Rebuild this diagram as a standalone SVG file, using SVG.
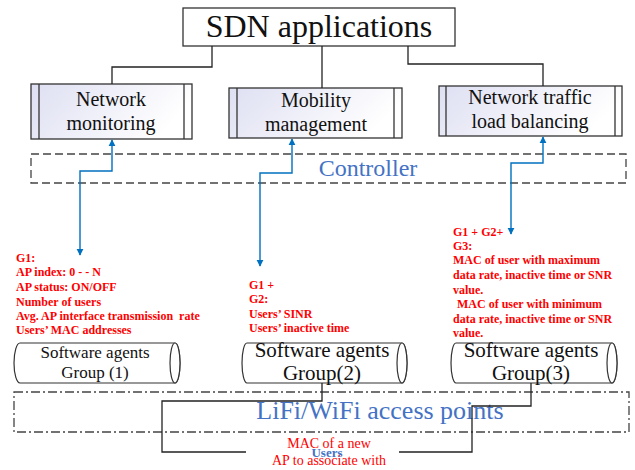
<svg xmlns="http://www.w3.org/2000/svg" width="635" height="470" viewBox="0 0 635 470">
<defs>
<linearGradient id="appfill" x1="0" y1="0" x2="1" y2="0.3">
<stop offset="0" stop-color="#dedff2"/>
<stop offset="1" stop-color="#ffffff"/>
</linearGradient>
<marker id="ah" viewBox="0 0 10 10" refX="9" refY="5" markerWidth="7" markerHeight="9" markerUnits="userSpaceOnUse" orient="auto-start-reverse">
<path d="M0,0 L10,5 L0,10 Z" fill="#0070C0"/>
</marker>
<style>
.box{fill:#fff;stroke:#333;stroke-width:1.3}
.app{fill:url(#appfill);stroke:#333;stroke-width:1.3}
.bar{stroke:#333;stroke-width:1.3;fill:none}
.line{fill:none;stroke:#222;stroke-width:1.3}
.blue{fill:none;stroke:#0070C0;stroke-width:1.4}
.tm{font-family:"Liberation Serif","Times New Roman",serif;fill:#111}
.red{font-family:"Liberation Serif","Times New Roman",serif;font-weight:bold;font-size:12px;fill:#ff0000}
.cyl{fill:#fff;stroke:#333;stroke-width:1.2}
</style>
</defs>

<g id="sdn-applications">
<rect class="box" x="183" y="8" width="272" height="38"/>
<text class="tm" x="319" y="37" font-size="32" text-anchor="middle">SDN applications</text>
</g>

<g id="network-monitoring">
<rect class="app" x="31" y="84" width="161" height="55"/>
<line class="bar" x1="39" y1="84" x2="39" y2="139"/>
<line class="bar" x1="184" y1="84" x2="184" y2="139"/>
<text class="tm" x="111" y="106" font-size="20" text-anchor="middle">Network</text>
<text class="tm" x="111" y="130" font-size="20" text-anchor="middle">monitoring</text>
</g>

<g id="mobility-management">
<rect class="app" x="229" y="88" width="173" height="50"/>
<line class="bar" x1="237" y1="88" x2="237" y2="138"/>
<line class="bar" x1="394" y1="88" x2="394" y2="138"/>
<text class="tm" x="316" y="107" font-size="20" text-anchor="middle">Mobility</text>
<text class="tm" x="316" y="131" font-size="20" text-anchor="middle">management</text>
</g>

<g id="load-balancing">
<rect class="app" x="439" y="86" width="183" height="50"/>
<line class="bar" x1="446" y1="86" x2="446" y2="136"/>
<line class="bar" x1="615" y1="86" x2="615" y2="136"/>
<text class="tm" x="530" y="104" font-size="20" text-anchor="middle">Network traffic</text>
<text class="tm" x="530" y="128" font-size="20" text-anchor="middle">load balancing</text>
</g>

<g id="controller">
<rect x="31" y="154" width="595" height="29" fill="none" stroke="#444" stroke-width="1.3" stroke-dasharray="8,4"/>
<text x="368" y="176" font-family="'Liberation Serif','Times New Roman',serif" font-size="24" fill="#4472C4" text-anchor="middle">Controller</text>
</g>

<g id="group1">
<path class="cyl" d="M20,343 H175 A5,20 0 0 1 175,383 H20 A6,20 0 0 1 20,343 Z"/>
<ellipse class="cyl" cx="175" cy="363" rx="5" ry="20"/>
<text class="tm" x="95" y="358" font-size="17" text-anchor="middle">Software agents</text>
<text class="tm" x="95" y="378" font-size="17" text-anchor="middle">Group (1)</text>
</g>

<g id="group2">
<path class="cyl" d="M247,343 H402 A5,20 0 0 1 402,383 H247 A5,20 0 0 1 247,343 Z"/>
<ellipse class="cyl" cx="402" cy="363" rx="5" ry="20"/>
<text class="tm" x="322" y="357" font-size="21" text-anchor="middle">Software agents</text>
<text class="tm" x="322" y="380" font-size="21" text-anchor="middle">Group(2)</text>
</g>

<g id="group3">
<path class="cyl" d="M456,343 H612 A5,20 0 0 1 612,383 H456 A5,20 0 0 1 456,343 Z"/>
<ellipse class="cyl" cx="612" cy="363" rx="5" ry="20"/>
<text class="tm" x="531" y="357" font-size="21" text-anchor="middle">Software agents</text>
<text class="tm" x="531" y="380" font-size="21" text-anchor="middle">Group(3)</text>
</g>

<g id="access-points">
<rect x="14" y="392" width="615" height="40" fill="none" stroke="#444" stroke-width="1.3" stroke-dasharray="9,3,2,3"/>
<text x="380" y="419" font-family="'Liberation Serif','Times New Roman',serif" font-size="26" fill="#4472C4" text-anchor="middle">LiFi/WiFi access points</text>
</g>

<g id="users">
<text x="329" y="448" font-family="'Liberation Serif','Times New Roman',serif" font-size="14" fill="#ff0000" text-anchor="middle">MAC of a new</text>
<text x="327" y="457" font-family="'Liberation Serif','Times New Roman',serif" font-size="13" font-weight="bold" fill="#4472C4" text-anchor="middle">Users</text>
<text x="329" y="465" font-family="'Liberation Serif','Times New Roman',serif" font-size="14" fill="#ff0000" text-anchor="middle">AP to associate with</text>
</g>

<g id="labels">
<text class="red" x="16" y="262">G1:</text>
<text class="red" x="16" y="276">AP index: 0 - - N</text>
<text class="red" x="16" y="291">AP status: ON/OFF</text>
<text class="red" x="16" y="306">Number of users</text>
<text class="red" x="16" y="320" style="white-space:pre">Avg. AP interface transmission  rate</text>
<text class="red" x="16" y="334">Users’ MAC addresses</text>

<text class="red" x="249" y="289">G1 +</text>
<text class="red" x="249" y="303">G2:</text>
<text class="red" x="249" y="318">Users’ SINR</text>
<text class="red" x="249" y="332">Users’ inactive time</text>

<text class="red" x="453" y="236">G1 + G2+</text>
<text class="red" x="453" y="250">G3:</text>
<text class="red" x="453" y="264">MAC of user with maximum</text>
<text class="red" x="453" y="279">data rate, inactive time or SNR</text>
<text class="red" x="453" y="294">value.</text>
<text class="red" x="457" y="308">MAC of user with minimum</text>
<text class="red" x="453" y="323">data rate, inactive time or SNR</text>
<text class="red" x="453" y="337">value.</text>
</g>

<g id="connectors">
<path class="line" d="M212,46 V67 H112 V84"/>
<path class="line" d="M322,46 V88"/>
<path class="line" d="M408,46 V64 H543 V86"/>
<path class="blue" d="M112,140 V171 H80 V255" marker-start="url(#ah)" marker-end="url(#ah)"/>
<path class="blue" d="M292,139 V173 H260 V266" marker-start="url(#ah)" marker-end="url(#ah)"/>
<path class="blue" d="M543,137 V163 H511 V234" marker-start="url(#ah)" marker-end="url(#ah)"/>
<path class="line" d="M322,383 V401 H162 V452 H246"/>
<path class="line" d="M531,383 V406 H472 V452 H399"/>
</g>
</svg>
